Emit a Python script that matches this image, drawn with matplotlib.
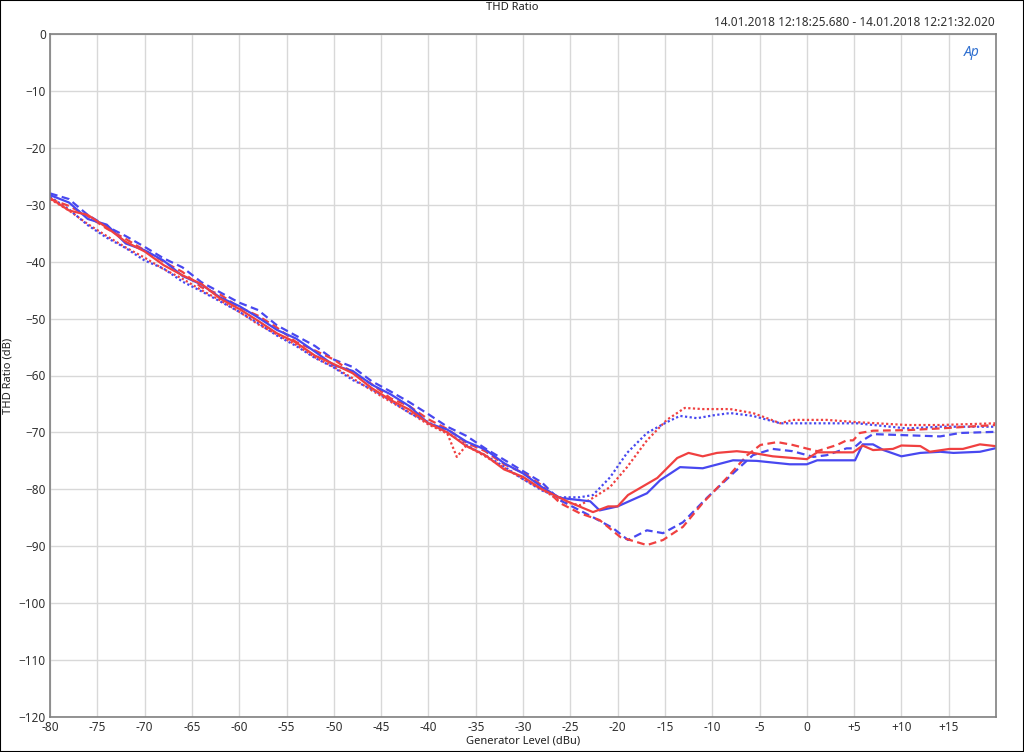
import matplotlib
matplotlib.use("Agg")
import matplotlib.pyplot as plt
from matplotlib.patches import Rectangle

plt.rcParams['font.family'] = ['Noto Sans', 'DejaVu Sans']

# generator level (dBu) for the linear part, shared by most traces
x_lin = [-80, -78, -76, -74, -72, -70, -68, -66, -64, -62, -60, -58, -56, -54,
         -52, -50, -48, -46, -44, -42, -40, -38, -36, -34, -32, -30, -28]

# red solid
red_solid_x = x_lin + [-25.2, -22.6, -21, -20, -18.9, -15.8, -13.7, -12.5, -11, -9.5, -7.4,
                       -5.7, -3.6, 0, 1.1, 3.5, 4.9, 5.9, 7, 9.1, 10, 12, 13, 15.1,
                       16.5, 18.3, 19.9]
red_solid_y = [-28.8, -31.0, -31.8, -34.0, -36.5, -38.2, -40.6, -42.4, -43.9, -46.5, -48.3,
               -50.4, -52.6, -54.2, -56.5, -58.0, -59.6, -62.2, -64.3, -66.0, -68.4, -70.0,
               -72.4, -74.0, -76.5, -77.8, -80.0,
               -82.2, -84.0, -83.0, -83.0, -81.0, -78.0, -74.5, -73.6, -74.2, -73.6, -73.3,
               -73.6, -74.2, -74.7, -73.5, -73.5, -73.5, -72.3, -73.1, -72.9, -72.3, -72.4,
               -73.4, -72.9, -72.9, -72.1, -72.4]

# blue solid
blue_solid_x = x_lin + [-26.1, -22.9, -21.9, -20, -16.9, -15.5, -13.4, -11, -7.8, -5.3, -1.8,
                        0, 1.1, 5.1, 5.9, 7, 8.1, 10, 12, 14.1, 15.5, 18.3, 19.9]
blue_solid_y = [-28.3, -29.6, -32.5, -33.5, -36.8, -38.0, -39.8, -42.5, -44.0, -46.3, -47.8,
                -49.8, -52.0, -53.5, -55.8, -58.2, -59.2, -61.6, -63.3, -65.4, -68.4, -69.5,
                -71.6, -73.0, -75.4, -77.2, -79.6,
                -81.5, -82.1, -83.7, -83.0, -80.7, -78.4, -76.1, -76.3, -74.9, -75.0, -75.6,
                -75.6, -74.9, -74.9, -72.1, -72.1, -73.1, -74.2, -73.6, -73.4, -73.6, -73.4,
                -72.8]

# red dashed
red_dash_x = x_lin + [-26.1, -24, -21.9, -19.7, -16.9, -15.2, -13.1, -11, -8.4, -6.3, -4.9,
                      -3.1, -1.5, 1.1, 3.2, 4.2, 4.9, 5.6, 7, 10.6, 14.1, 19.9]
red_dash_y = [-29.0, -30.2, -32.0, -34.2, -36.0, -38.0, -40.0, -41.8, -44.5, -45.8, -48.0,
              -49.5, -51.6, -54.1, -55.6, -57.2, -59.5, -61.5, -64.0, -65.4, -67.7, -69.4,
              -71.8, -73.3, -75.6, -77.1, -79.3,
              -82.4, -84.2, -85.4, -88.4, -89.8, -88.9, -86.6, -82.4, -77.9, -74.0, -72.2,
              -71.7, -72.2, -73.3, -72.2, -71.4, -71.4, -70.1, -69.7, -69.6, -69.3, -68.7]

# blue dashed
blue_dash_x = x_lin + [-26.1, -22.6, -20.5, -18.9, -16.9, -15.2, -13.1, -10.5, -7.8, -5.7,
                       -3.6, -1.5, 0.7, 2.1, 4.2, 4.9, 5.9, 7, 10.6, 14.1, 16.2, 19.9]
blue_dash_y = [-28.0, -29.0, -31.8, -33.8, -35.5, -37.4, -39.4, -41.0, -43.6, -45.4, -47.2,
               -48.5, -51.2, -53.0, -54.8, -57.2, -58.5, -61.0, -62.8, -64.7, -66.8, -69.0,
               -70.6, -72.8, -74.8, -76.8, -78.8,
               -81.9, -84.9, -86.8, -88.9, -87.2, -87.7, -85.8, -81.4, -77.2, -74.0, -72.9,
               -73.3, -74.3, -74.0, -72.8, -72.8, -71.4, -70.3, -70.5, -70.7, -70.1, -69.9]

# red dotted (has a glitch near -37 dBu)
red_dot_x = [-80, -78, -76, -74, -72, -70, -68, -66, -64, -62, -60, -58, -56, -54, -52, -50,
             -48, -46, -44, -42, -40, -38, -37, -36, -34, -32, -30, -28,
             -26.1, -24, -22.6, -20.8, -19, -16.9, -14.8, -12.9, -11, -8.1, -5.7, -4.2,
             -2.8, -1.5, 2.1, 5.3, 10.6, 14.1, 19.9]
red_dot_y = [-29.0, -31.0, -33.4, -35.5, -37.5, -39.3, -41.3, -43.0, -45.0, -46.8, -48.8,
             -51.0, -52.8, -54.6, -56.8, -58.5, -60.5, -62.6, -64.6, -66.5, -68.6, -70.2,
             -74.3, -72.3, -74.2, -76.2, -78.2, -80.0,
             -82.0, -82.8, -81.5, -79.6, -76.1, -71.4, -67.8, -65.7, -65.9, -65.9, -66.6,
             -67.5, -68.4, -67.8, -67.8, -68.2, -68.7, -68.7, -68.4]

# blue dotted
blue_dot_x = x_lin + [-26.1, -24, -22.6, -20.8, -19, -16.9, -14.8, -13.4, -11.6, -9.9, -8.1,
                      -5.7, -2.8, 2.1, 5.3, 10.6, 14.1, 19.9]
blue_dot_y = [-28.6, -30.8, -33.6, -35.8, -37.6, -39.8, -41.2, -43.5, -45.2, -47.0, -48.8,
              -50.8, -53.0, -54.8, -56.9, -58.6, -60.8, -62.4, -64.4, -66.6, -68.2, -70.0,
              -72.2, -74.0, -76.0, -78.2, -80.2,
              -81.4, -81.4, -81.0, -77.9, -73.6, -70.1, -68.2, -67.1, -67.5, -67.0, -66.6,
              -67.1, -68.4, -68.4, -68.4, -69.3, -69.0, -69.0]

x_ticks = list(range(-80, 20, 5))
x_tick_labels = [f"+{v}" if v > 0 else str(v) for v in x_ticks]
y_ticks = list(range(-120, 1, 10))

RED = '#f04040'
BLUE = '#4848f0'

fig = plt.figure(figsize=(10.24, 7.52), dpi=100)
ax = fig.add_axes([50 / 1024, 1 - 717 / 752, 946 / 1024, 683 / 752])

lw = 1.6
ax.plot(red_dot_x, red_dot_y, color=RED, lw=lw, dashes=(1, 1.1))
ax.plot(blue_dot_x, blue_dot_y, color=BLUE, lw=lw, dashes=(1, 1.1))
ax.plot(blue_dash_x, blue_dash_y, color=BLUE, lw=lw, dashes=(3.5, 2))
ax.plot(red_dash_x, red_dash_y, color=RED, lw=lw, dashes=(3.5, 2))
ax.plot(blue_solid_x, blue_solid_y, color=BLUE, lw=lw)
ax.plot(red_solid_x, red_solid_y, color=RED, lw=lw)

ax.set_xlim(-80, 20)
ax.set_ylim(-120, 0)
ax.set_xticks(x_ticks)
ax.set_xticklabels(x_tick_labels)
ax.set_yticks(y_ticks)
ax.grid(True, color='#d8d8d8', lw=1)
ax.set_axisbelow(True)
ax.tick_params(length=0, labelsize=8.5, colors='#303030', pad=3)
for s in ax.spines.values():
    s.set_color('#808080')
    s.set_linewidth(1.2)

ax.set_xlabel('Generator Level (dBu)', fontsize=8, color='#202020', labelpad=1)
ax.set_ylabel('THD Ratio (dB)', fontsize=8, color='#202020', labelpad=4)

fig.text(512 / 1024, 1 - 7 / 752, 'THD Ratio', ha='center', va='center', fontsize=8,
         color='#202020')
fig.text(995 / 1024, 1 - 22 / 752, '14.01.2018 12:18:25.680 - 14.01.2018 12:21:32.020',
         ha='right', va='center', fontsize=8.5, color='#303030')
fig.text(972 / 1024, 1 - 52 / 752, 'Ap', ha='center', va='center', fontsize=10,
         style='italic', weight='bold', color='#3070d0')

fig.patches.append(Rectangle((0, 0), 1, 1, transform=fig.transFigure, fill=False,
                             edgecolor='black', lw=1.5))

fig.savefig('out.png', dpi=100)
